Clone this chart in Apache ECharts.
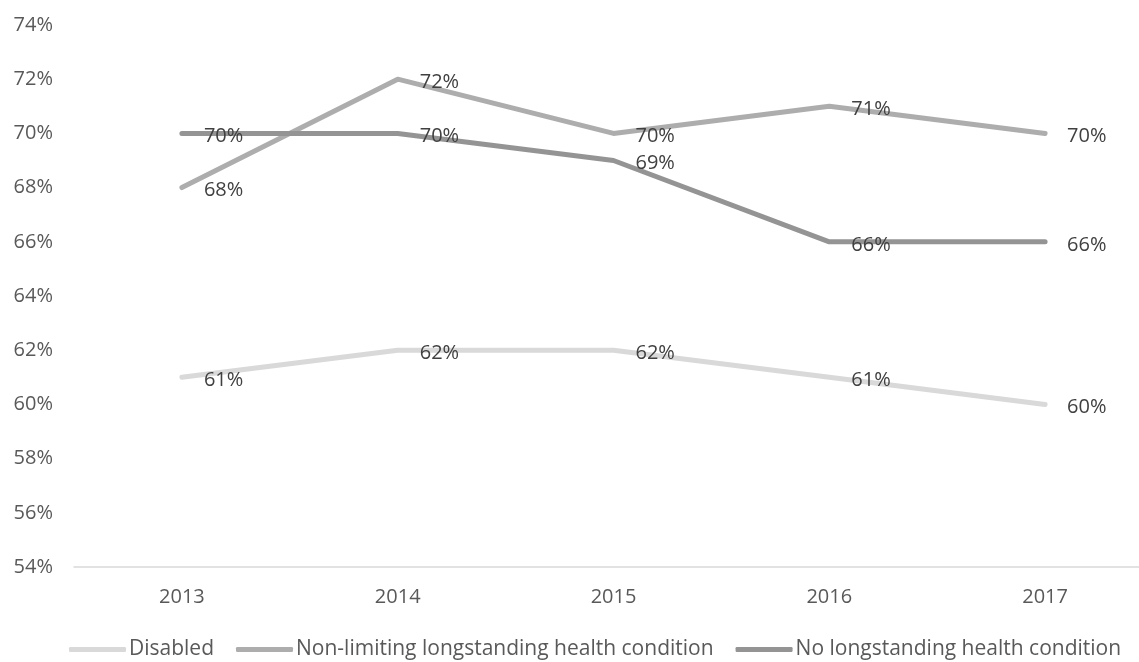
<!DOCTYPE html>
<html>
<head>
<meta charset="utf-8">
<script src="https://cdn.jsdelivr.net/npm/echarts@6/dist/echarts.min.js"></script>
<style>
  html, body { margin: 0; padding: 0; background: #fff; }
  #main { width: 1139px; height: 662px; }
</style>
</head>
<body>
<div id="main"></div>
<script>
var years = ['2013', '2014', '2015', '2016', '2017'];
var disabled = [61, 62, 62, 61, 60];
var nonLimiting = [68, 72, 70, 71, 70];
var noCondition = [70, 70, 69, 66, 66];

var font = '"Open Sans", sans-serif';

function makeSeries(name, data, color) {
    return {
        name: name,
        type: 'line',
        data: data,
        showSymbol: true,
        symbol: 'circle',
        symbolSize: 0,
        lineStyle: { color: color, width: 5, cap: 'round', join: 'round' },
        itemStyle: { color: color },
        label: {
            show: true,
            position: 'right',
            distance: 22,
            offset: [0, 3],
            color: '#404040',
            fontSize: 20,
            fontFamily: font,
            formatter: '{c}%'
        },
        emphasis: { disabled: true },
        animation: false
    };
}

var myChart = echarts.init(document.getElementById('main'));

option = {
    backgroundColor: '#fff',
    grid: {
        left: 74,
        width: 1079,
        top: 25,
        bottom: 95,
        containLabel: false,
        outerBoundsMode: 'none'
    },
    legend: {
        top: 634,
        left: 64,
        icon: 'roundRect',
        itemWidth: 57,
        itemHeight: 5,
        itemGap: 22,
        textStyle: { color: '#595959', fontSize: 21, fontFamily: font, padding: [0, 0, 0, -2] },
        data: ['Disabled', 'Non-limiting longstanding health condition', 'No longstanding health condition']
    },
    xAxis: {
        type: 'category',
        data: years,
        boundaryGap: true,
        axisLine: { lineStyle: { color: '#d9d9d9', width: 1.5 } },
        axisTick: { show: false },
        axisLabel: { color: '#595959', fontSize: 20, fontFamily: font, margin: 20 }
    },
    yAxis: {
        type: 'value',
        min: 54,
        max: 74,
        interval: 2,
        axisLine: { show: false },
        axisTick: { show: false },
        splitLine: { show: false },
        axisLabel: {
            color: '#595959', fontSize: 20, fontFamily: font,
            margin: 21,
            formatter: '{value}%'
        }
    },
    series: [
        makeSeries('Disabled', disabled, '#d9d9d9'),
        makeSeries('Non-limiting longstanding health condition', nonLimiting, '#adadad'),
        makeSeries('No longstanding health condition', noCondition, '#949494')
    ]
};
myChart.setOption(option);
</script>
</body>
</html>
